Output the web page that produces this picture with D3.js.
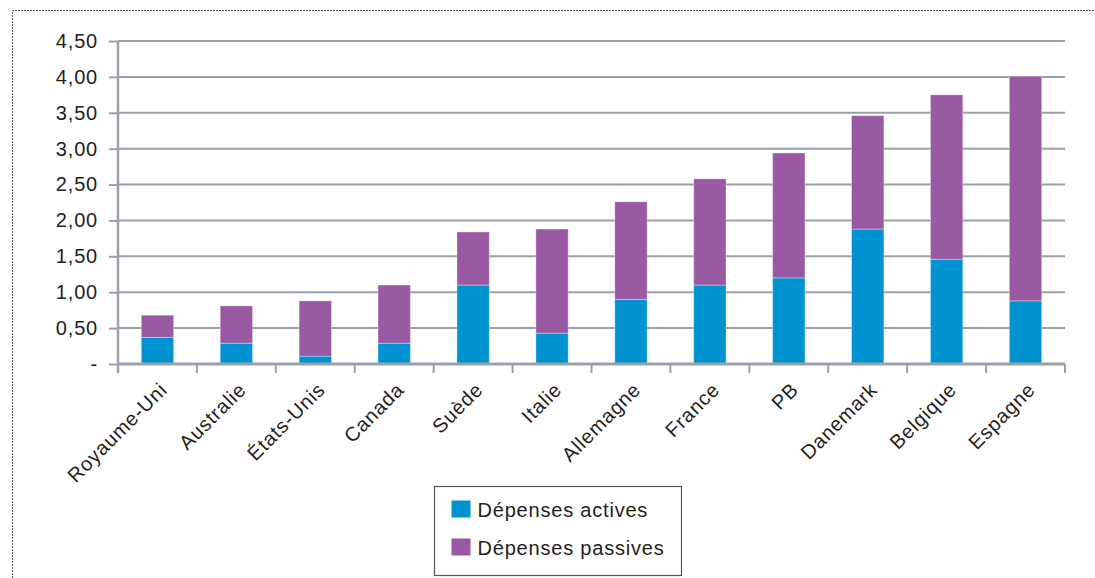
<!DOCTYPE html>
<html>
<head>
<meta charset="utf-8">
<script src="https://cdn.jsdelivr.net/npm/d3@7"></script>
<style>
  html, body { margin: 0; padding: 0; background: #fff; }
  svg { display: block; font-family: "Liberation Sans", Arial, sans-serif; }
</style>
</head>
<body>
<svg id="chart" width="1095" height="578"></svg>
<script>
// Dépenses pour l'emploi, en % du PIB
const countries = ["Royaume-Uni", "Australie", "États-Unis", "Canada", "Suède", "Italie",
                   "Allemagne", "France", "PB", "Danemark", "Belgique", "Espagne"];
const actives  = [0.37, 0.29, 0.11, 0.29, 1.10, 0.43, 0.90, 1.10, 1.20, 1.88, 1.46, 0.88];
const passives = [0.31, 0.52, 0.77, 0.81, 0.74, 1.45, 1.36, 1.48, 1.74, 1.58, 2.29, 3.13];
const yTicks = [0, 0.5, 1, 1.5, 2, 2.5, 3, 3.5, 4, 4.5];
const seriesNames = ["Dépenses actives", "Dépenses passives"];
const colors = ["#0093cf", "#9a59a3"];

const svg = d3.select("#chart");
const W = 1095, H = 578;
const x0 = 118, x1 = 1065;
const yBase = 364;
const textStyle = sel => sel.attr("fill", "#231f20")
  .style("font-size", "20px").style("letter-spacing", "0.8px");

// dotted frame
svg.append("path")
  .attr("d", `M12.5,${H} V10.5 H${W}`)
  .attr("fill", "none").attr("stroke", "#555").attr("stroke-width", 1)
  .attr("stroke-dasharray", "2,1");

const x = d3.scaleBand().domain(countries).range([x0, x1]).paddingInner(0.59).paddingOuter(0.295);
const y = d3.scaleLinear().domain([0, 4.5]).range([yBase, 41]);

const grid = "#99a2ab";
const fmt = v => v === 0 ? "-" : d3.format(".2f")(v).replace(".", ",");

// gridlines + y axis
const yAxis = svg.append("g").attr("transform", `translate(${x0},0)`)
  .call(d3.axisLeft(y).tickValues(yTicks).tickFormat(fmt).tickSize(9).tickPadding(11));
yAxis.select(".domain").remove();
yAxis.selectAll(".tick line").attr("stroke", grid).attr("stroke-width", 2);
yAxis.selectAll(".tick text").call(textStyle);
svg.append("g").selectAll("line").data(yTicks.filter(v => v > 0)).join("line")
  .attr("x1", x0).attr("x2", x1)
  .attr("y1", d => y(d)).attr("y2", d => y(d))
  .attr("stroke", grid).attr("stroke-width", 2);

// stacked bars
const rows = countries.map((c, i) => ({ country: c, a: actives[i], p: passives[i] }));
const stack = d3.stack().keys(["a", "p"])(rows);
svg.append("g").selectAll("g").data(stack).join("g")
  .attr("fill", (d, i) => colors[i])
  .selectAll("rect").data(d => d).join("rect")
  .attr("x", d => x(d.data.country))
  .attr("width", x.bandwidth())
  .attr("y", d => y(d[1]))
  .attr("height", d => y(d[0]) - y(d[1]))
  .attr("stroke", "rgba(255,255,255,0.35)")
  .attr("stroke-width", 1);

// y axis line
svg.append("line").attr("x1", x0).attr("x2", x0).attr("y1", 41).attr("y2", 373)
  .attr("stroke", grid).attr("stroke-width", 2.5);

// x axis
const tickPos = d3.range(countries.length + 1).map(i => x0 + i * (x1 - x0) / countries.length);
svg.append("line").attr("x1", x0).attr("x2", x1).attr("y1", yBase).attr("y2", yBase)
  .attr("stroke", grid).attr("stroke-width", 3);
svg.append("g").selectAll("line").data(tickPos).join("line")
  .attr("x1", d => d).attr("x2", d => d).attr("y1", yBase).attr("y2", 373)
  .attr("stroke", grid).attr("stroke-width", 2);

svg.append("g").selectAll("text").data(countries).join("text")
  .attr("transform", d => `translate(${x(d) + x.bandwidth() / 2 + 11},${391}) rotate(-45)`)
  .attr("text-anchor", "end")
  .call(textStyle)
  .text(d => d);

// legend
const lg = svg.append("g").attr("transform", "translate(434.5,486.5)");
lg.append("rect").attr("width", 247).attr("height", 89)
  .attr("fill", "#fff").attr("stroke", "#555").attr("stroke-width", 1.2);
seriesNames.forEach((name, i) => {
  const row = lg.append("g").attr("transform", `translate(17,${14 + i * 38})`);
  row.append("rect").attr("width", 19).attr("height", 17).attr("fill", colors[i]);
  row.append("text").attr("x", 26).attr("y", 16).call(textStyle).text(name);
});
</script>
</body>
</html>
